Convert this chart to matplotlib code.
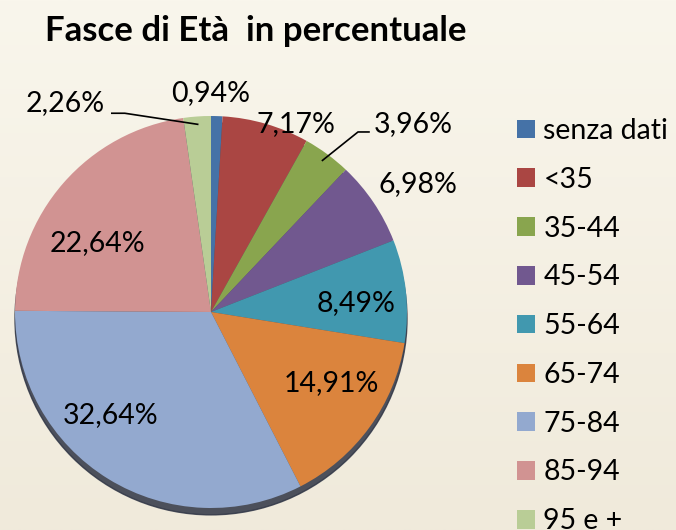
import numpy as np
import matplotlib.pyplot as plt
from matplotlib.patches import Circle

# age bands and shares (%)
categories = ['senza dati', '<35', '35-44', '45-54', '55-64', '65-74', '75-84', '85-94', '95 e +']
values = [0.94, 7.17, 3.96, 6.98, 8.49, 14.91, 32.64, 22.64, 2.26]
labels = ['0,94%', '7,17%', '3,96%', '6,98%', '8,49%', '14,91%', '32,64%', '22,64%', '2,26%']
colors = ['#4572A7', '#AA4643', '#89A54E', '#71588F', '#4198AF', '#DB843D', '#93A9CF', '#D19392', '#B9CD96']

# label placement: radius factor and angle shift from wedge middle
label_r = [1.117, 1.053, 1.27, 1.242, 0.741, 0.711, 0.732, 0.680, 1.195]
label_shift = [1.7, -8, -4.6, -2.3, -2.5, 5.4, -12.6, 9.9, 22.9]

W, H = 676, 530
cx, cy, R = 211, 312, 196

fig = plt.figure(figsize=(W / 100, H / 100), dpi=100)

# cream background gradient
bg = fig.add_axes([0, 0, 1, 1])
grad = np.linspace(0, 1, 256).reshape(-1, 1)
top = np.array([249, 246, 236]) / 255
bot = np.array([240, 234, 219]) / 255
img = top + (bot - top) * grad[:, :, None]
bg.imshow(img, aspect='auto', extent=[0, 1, 0, 1])
bg.axis('off')

ax = fig.add_axes([0, 0, 1, 1])
ax.patch.set_alpha(0)

# shadow under the pie
ax.add_patch(Circle((0.0, -0.035), 1.0, color='#2f3545', alpha=0.85, zorder=0))

wedges, _ = ax.pie(values, colors=colors, startangle=90, counterclock=False,
                   wedgeprops=dict(linewidth=0), radius=1.0)
for w in wedges:
    w.set_zorder(1)

font = 'Lato'
fs = 20.5
for i, w in enumerate(wedges):
    mid = (w.theta1 + w.theta2) / 2
    a = np.deg2rad(mid + label_shift[i])
    x, y = label_r[i] * np.cos(a), label_r[i] * np.sin(a)
    ex, ey = 0.96 * np.cos(np.deg2rad(mid)), 0.96 * np.sin(np.deg2rad(mid))
    if labels[i] == '3,96%':
        ax.plot([ex, x - 0.082, x - 0.026], [ey, y - 0.041, y - 0.041], color='black', lw=1.2, zorder=3)
        ax.text(x, y, labels[i], ha='left', va='center', fontsize=fs, family=font, zorder=4)
    elif labels[i] == '2,26%':
        ax.plot([x + 0.036, x + 0.102, ex], [y - 0.051, y - 0.051, ey], color='black', lw=1.2, zorder=3)
        ax.text(x, y, labels[i], ha='right', va='center', fontsize=fs, family=font, zorder=4)
    else:
        ax.text(x, y, labels[i], ha='center', va='center', fontsize=fs, family=font, zorder=4)

ax.set_xlim(-cx / R, (W - cx) / R)
ax.set_ylim((cy - H) / R, cy / R)
ax.axis('off')

fig.text(256 / W, 1 - 31 / H, 'Fasce di Età  in percentuale', ha='center', va='center',
         fontsize=25, fontweight='bold', family=font)

leg = ax.legend(wedges, categories, loc='upper left', bbox_to_anchor=(517 / W, 1 - 118 / H),
                bbox_transform=fig.transFigure, frameon=False, prop=dict(family=font, size=fs),
                handlelength=0.63, handleheight=0.63, handletextpad=0.3, labelspacing=0.8,
                borderpad=0, borderaxespad=0)

fig.savefig('out.png', dpi=100)
